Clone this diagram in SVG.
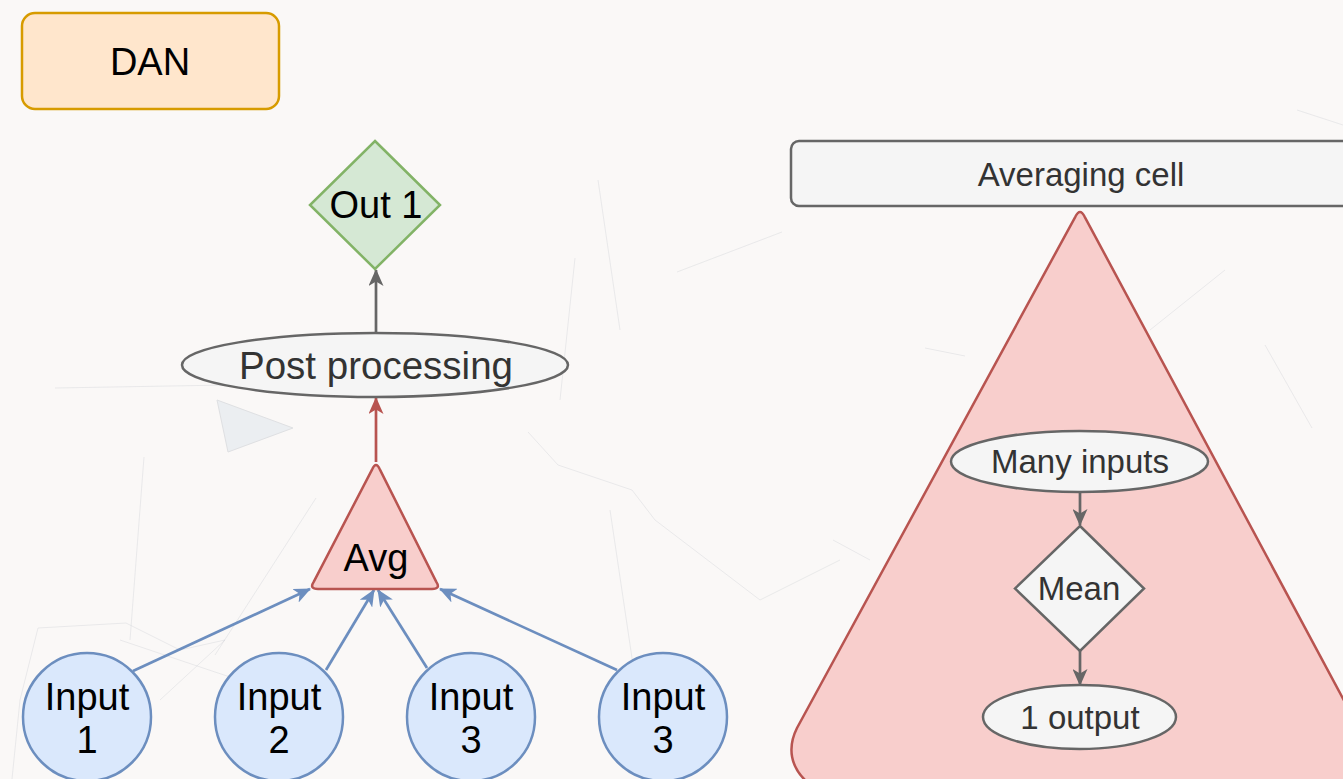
<svg xmlns="http://www.w3.org/2000/svg" width="1343" height="779" viewBox="0 0 1343 779">
  <style>
    text { font-family: "Liberation Sans", Arial, sans-serif; text-anchor: middle; }
    .big { font-size: 38px; fill: #000; }
    .cell { font-size: 33px; fill: #333; }
    .gray { fill: #f5f5f5; stroke: #666; stroke-width: 2.5; }
    .input { fill: #dae8fc; stroke: #6c8ebf; stroke-width: 2.5; }
    .red { fill: #f8cecc; stroke: #b85450; stroke-width: 2.5; stroke-linejoin: round; }
    .edge { fill: none; stroke-width: 2.7; }
    .bg line, .bg polyline { stroke: #cfd2d6; stroke-width: 1; fill: none; opacity: 0.4; }
  </style>
  <defs>
    <marker id="arrowGray" markerUnits="userSpaceOnUse" markerWidth="17" markerHeight="15" viewBox="0 0 17 15" refX="16" refY="7.5" orient="auto">
      <path d="M0,0 L17,7.5 L0,15 L4.5,7.5 z" fill="#666"/>
    </marker>
    <marker id="arrowRed" markerUnits="userSpaceOnUse" markerWidth="17" markerHeight="15" viewBox="0 0 17 15" refX="16" refY="7.5" orient="auto">
      <path d="M0,0 L17,7.5 L0,15 L4.5,7.5 z" fill="#b85450"/>
    </marker>
    <marker id="arrowBlue" markerUnits="userSpaceOnUse" markerWidth="17" markerHeight="15" viewBox="0 0 17 15" refX="16" refY="7.5" orient="auto">
      <path d="M0,0 L17,7.5 L0,15 L4.5,7.5 z" fill="#6c8ebf"/>
    </marker>
  </defs>

  <!-- page background with a faint network pattern -->
  <rect x="0" y="0" width="1343" height="779" fill="#faf8f7"/>
  <g class="bg">
    <polygon points="217,400 293,428 228,452" fill="#e6eaef" stroke="#d3d6da" opacity="0.7"/>
    <line x1="55" y1="388" x2="400" y2="382"/>
    <line x1="144" y1="457" x2="130" y2="640"/>
    <polyline points="38,628 126,623 180,650 225,640 160,700"/>
    <polyline points="38,628 20,700 12,779"/>
    <polyline points="120,640 215,672 300,700"/>
    <line x1="316" y1="498" x2="215" y2="655"/>
    <line x1="598" y1="180" x2="620" y2="330"/>
    <line x1="575" y1="258" x2="560" y2="400"/>
    <polyline points="528,432 558,465 632,490 655,520 760,600 840,560"/>
    <line x1="610" y1="510" x2="650" y2="779"/>
    <line x1="1225" y1="270" x2="1150" y2="330"/>
    <line x1="1265" y1="345" x2="1312" y2="428"/>
    <line x1="925" y1="348" x2="965" y2="356"/>
    <line x1="677" y1="272" x2="782" y2="232"/>
    <line x1="1297" y1="110" x2="1343" y2="125"/>
    <line x1="833" y1="540" x2="870" y2="560"/>
  </g>

  <!-- right: averaging cell container (drawn under its inner flow) -->
  <g id="averaging-cell">
    <rect class="gray" x="791" y="141" width="580" height="65" rx="8"/>
    <text class="cell" x="1081" y="186">Averaging cell</text>
  </g>

  <g id="cell-body">
    <path class="red" d="M1075.3,216.8 Q1080,207 1084.7,216.8 L1400,805 L812,805 L812,786 C788,768 788,746 797,728 Z"/>
  </g>

  <!-- connectors -->
  <g id="connectors">
    <line class="edge" x1="376" y1="333" x2="376" y2="270" stroke="#666" marker-end="url(#arrowGray)"/>
    <line class="edge" x1="376" y1="462" x2="376" y2="398" stroke="#b85450" marker-end="url(#arrowRed)"/>
    <line class="edge" x1="133" y1="671" x2="310" y2="589" stroke="#6c8ebf" marker-end="url(#arrowBlue)"/>
    <line class="edge" x1="326" y1="670" x2="374" y2="590" stroke="#6c8ebf" marker-end="url(#arrowBlue)"/>
    <line class="edge" x1="427" y1="668" x2="378" y2="590" stroke="#6c8ebf" marker-end="url(#arrowBlue)"/>
    <line class="edge" x1="617" y1="670" x2="440" y2="589" stroke="#6c8ebf" marker-end="url(#arrowBlue)"/>
    <line class="edge" x1="1080" y1="492" x2="1080" y2="525" stroke="#666" marker-end="url(#arrowGray)"/>
    <line class="edge" x1="1080" y1="651" x2="1080" y2="685" stroke="#666" marker-end="url(#arrowGray)"/>
  </g>

  <!-- left: DAN -->
  <g id="dan">
    <rect x="22" y="13" width="257" height="96" rx="13" fill="#ffe6cc" stroke="#d79b00" stroke-width="2.5"/>
    <text class="big" x="150" y="75">DAN</text>
  </g>

  <g id="out1">
    <path d="M375,141 L440,205 L375,269 L310,205 Z" fill="#d5e8d4" stroke="#82b366" stroke-width="2.5"/>
    <text class="big" x="376" y="218">Out 1</text>
  </g>

  <g id="post-processing">
    <ellipse class="gray" cx="375" cy="365" rx="193" ry="32"/>
    <text class="big" x="376" y="379" style="fill:#333;font-size:38.5px">Post processing</text>
  </g>

  <g id="avg">
    <path class="red" d="M372.3,469.1 Q376,461 379.7,469.1 L436.3,581.9 Q441,589 432,589 L318,589 Q309,589 313.7,581.9 Z"/>
    <text class="big" x="376" y="571">Avg</text>
  </g>

  <g id="input1">
    <ellipse class="input" cx="87" cy="717" rx="64" ry="64"/>
    <text class="big" x="87" y="710">Input</text>
    <text class="big" x="87" y="753">1</text>
  </g>
  <g id="input2">
    <ellipse class="input" cx="279" cy="717" rx="64" ry="64"/>
    <text class="big" x="279" y="710">Input</text>
    <text class="big" x="279" y="753">2</text>
  </g>
  <g id="input3">
    <ellipse class="input" cx="471" cy="717" rx="64" ry="64"/>
    <text class="big" x="471" y="710">Input</text>
    <text class="big" x="471" y="753">3</text>
  </g>
  <g id="input3b">
    <ellipse class="input" cx="663" cy="717" rx="64" ry="64"/>
    <text class="big" x="663" y="710">Input</text>
    <text class="big" x="663" y="753">3</text>
  </g>

  <!-- inner flow of the averaging cell -->
  <g id="many-inputs">
    <ellipse class="gray" cx="1079.5" cy="461.5" rx="128.5" ry="30.5"/>
    <text class="cell" x="1080" y="473">Many inputs</text>
  </g>

  <g id="mean">
    <path class="gray" d="M1080,526 L1144,588.5 L1080,651 L1015,588.5 Z"/>
    <text class="cell" x="1079" y="600">Mean</text>
  </g>

  <g id="one-output">
    <ellipse class="gray" cx="1079.5" cy="717" rx="96.5" ry="32"/>
    <text class="cell" x="1080" y="729">1 output</text>
  </g>
</svg>
